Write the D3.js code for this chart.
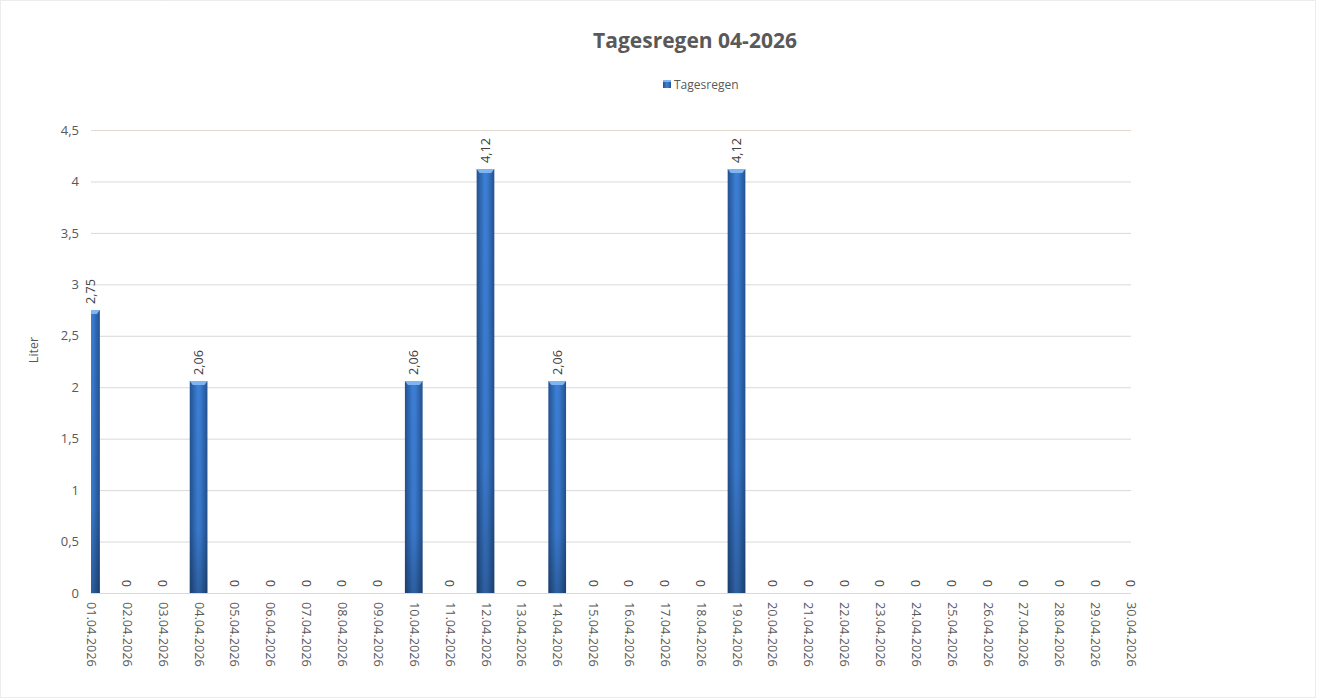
<!DOCTYPE html>
<html><head><meta charset="utf-8">
<script src="https://cdn.jsdelivr.net/npm/d3@7"></script>
<style>
html,body{margin:0;padding:0;background:#fff;}
svg{display:block;font-family:"Open Sans",sans-serif;}
</style></head>
<body>
<svg id="c" width="1317" height="699"></svg>
<script>
const days = ["01.04.2026","02.04.2026","03.04.2026","04.04.2026","05.04.2026","06.04.2026","07.04.2026","08.04.2026","09.04.2026","10.04.2026","11.04.2026","12.04.2026","13.04.2026","14.04.2026","15.04.2026","16.04.2026","17.04.2026","18.04.2026","19.04.2026","20.04.2026","21.04.2026","22.04.2026","23.04.2026","24.04.2026","25.04.2026","26.04.2026","27.04.2026","28.04.2026","29.04.2026","30.04.2026"];
const rain = [2.75,0,0,2.06,0,0,0,0,0,2.06,0,4.12,0,2.06,0,0,0,0,4.12,0,0,0,0,0,0,0,0,0,0,0];
const yTicks = [0,0.5,1,1.5,2,2.5,3,3.5,4,4.5];
const title = "Tagesregen 04-2026";
const seriesName = "Tagesregen";
const yTitle = "Liter";

const svg = d3.select("#c");
const W = 1317, H = 699;
const L = 91, R = 1131, T = 130, B = 593;
const fmt = v => String(v).replace(".", ",");

svg.append("rect").attr("x",0.5).attr("y",0.5).attr("width",W-2).attr("height",H-2)
  .attr("fill","#fff").attr("stroke","#d9d9d9").attr("stroke-dasharray","1,1");

const defs = svg.append("defs");
const g1 = defs.append("linearGradient").attr("id","barG").attr("x1","0").attr("x2","1").attr("y1","0").attr("y2","0");
g1.append("stop").attr("offset","0").attr("stop-color","#23518f");
g1.append("stop").attr("offset","0.45").attr("stop-color","#3c7fd6");
g1.append("stop").attr("offset","0.6").attr("stop-color","#3a7bd0");
g1.append("stop").attr("offset","1").attr("stop-color","#23518f");
const g2 = defs.append("linearGradient").attr("id","shadeG").attr("x1","0").attr("x2","0").attr("y1","0").attr("y2","1");
g2.append("stop").attr("offset","0").attr("stop-color","#000").attr("stop-opacity","0");
g2.append("stop").attr("offset","0.7").attr("stop-color","#000").attr("stop-opacity","0.05");
g2.append("stop").attr("offset","1").attr("stop-color","#000").attr("stop-opacity","0.25");
defs.append("clipPath").attr("id","plotClip").append("rect")
  .attr("x",L).attr("y",0).attr("width",R-L).attr("height",B+1);

const x = d3.scalePoint().domain(days).range([L,R]);
const y = d3.scaleLinear().domain([0,4.5]).range([B,T]);
const bw = 17.7;

// gridlines
svg.append("g").selectAll("line").data(yTicks).join("line")
  .attr("x1",L).attr("x2",R).attr("y1",d=>y(d)+0.5).attr("y2",d=>y(d)+0.5)
  .attr("stroke",d=>d===4.5?"#e3d9cf":"#d9d9d9").attr("stroke-width",1);

// y axis labels
const yAxis = d3.axisLeft(y).tickValues(yTicks).tickSize(0).tickPadding(12).tickFormat(fmt);
const ya = svg.append("g").attr("transform",`translate(${L},0)`).call(yAxis);
ya.select(".domain").remove();
ya.selectAll("text").attr("fill","#595959").attr("font-size","13px").attr("font-family","'Open Sans',sans-serif");

// x axis labels
const xAxis = d3.axisBottom(x).tickSize(0).tickPadding(0);
const xa = svg.append("g").attr("transform",`translate(0,${B})`).call(xAxis);
xa.select(".domain").remove();
xa.selectAll("text").attr("fill","#595959").attr("font-size","12.7px").attr("font-family","'Open Sans',sans-serif")
  .attr("text-anchor","start").attr("dy","0.35em")
  .attr("transform","translate(0,9) rotate(90)");

// bars
const bars = svg.append("g").attr("clip-path","url(#plotClip)");
const nz = days.map((d,i)=>({d,v:rain[i]})).filter(o=>o.v>0);
bars.selectAll("rect.b").data(nz).join("rect").attr("class","b")
  .attr("x",o=>x(o.d)-bw/2).attr("width",bw)
  .attr("y",o=>y(o.v)).attr("height",o=>y(0)-y(o.v)).attr("fill","url(#barG)");
bars.selectAll("rect.s").data(nz).join("rect").attr("class","s")
  .attr("x",o=>x(o.d)-bw/2).attr("width",bw)
  .attr("y",o=>y(o.v)).attr("height",o=>y(0)-y(o.v)).attr("fill","url(#shadeG)");
bars.selectAll("path.t").data(nz).join("path").attr("class","t")
  .attr("d",o=>{const x0=x(o.d)-bw/2, x1=x0+bw, yt=y(o.v);
    return `M${x0},${yt}L${x1},${yt}L${x1-3},${yt+4}L${x0+3},${yt+4}Z`;})
  .attr("fill","#7fb6f2");

// data labels
svg.append("g").selectAll("text").data(days.map((d,i)=>({d,v:rain[i]}))).join("text")
  .attr("transform",o=>`translate(${x(o.d)},${y(o.v)-6}) rotate(-90)`)
  .attr("dy","0.35em").attr("text-anchor","start")
  .attr("fill","#404040").attr("font-size","12.7px")
  .text(o=>fmt(o.v));

// title
svg.append("text").attr("x",695).attr("y",48).attr("text-anchor","middle")
  .attr("font-size","21px").attr("font-weight","bold").attr("fill","#595959").text(title);

// legend
svg.append("rect").attr("x",663).attr("y",80).attr("width",8).attr("height",8).attr("fill","url(#barG)");
svg.append("rect").attr("x",663).attr("y",80).attr("width",8).attr("height",2).attr("fill","#7fb6f2");
svg.append("text").attr("x",674).attr("y",89).attr("font-size","12px").attr("fill","#595959").text(seriesName);

// y title
svg.append("text").attr("transform","translate(38,350) rotate(-90)").attr("text-anchor","middle")
  .attr("font-size","12.5px").attr("fill","#595959").text(yTitle);
</script>
</body></html>
